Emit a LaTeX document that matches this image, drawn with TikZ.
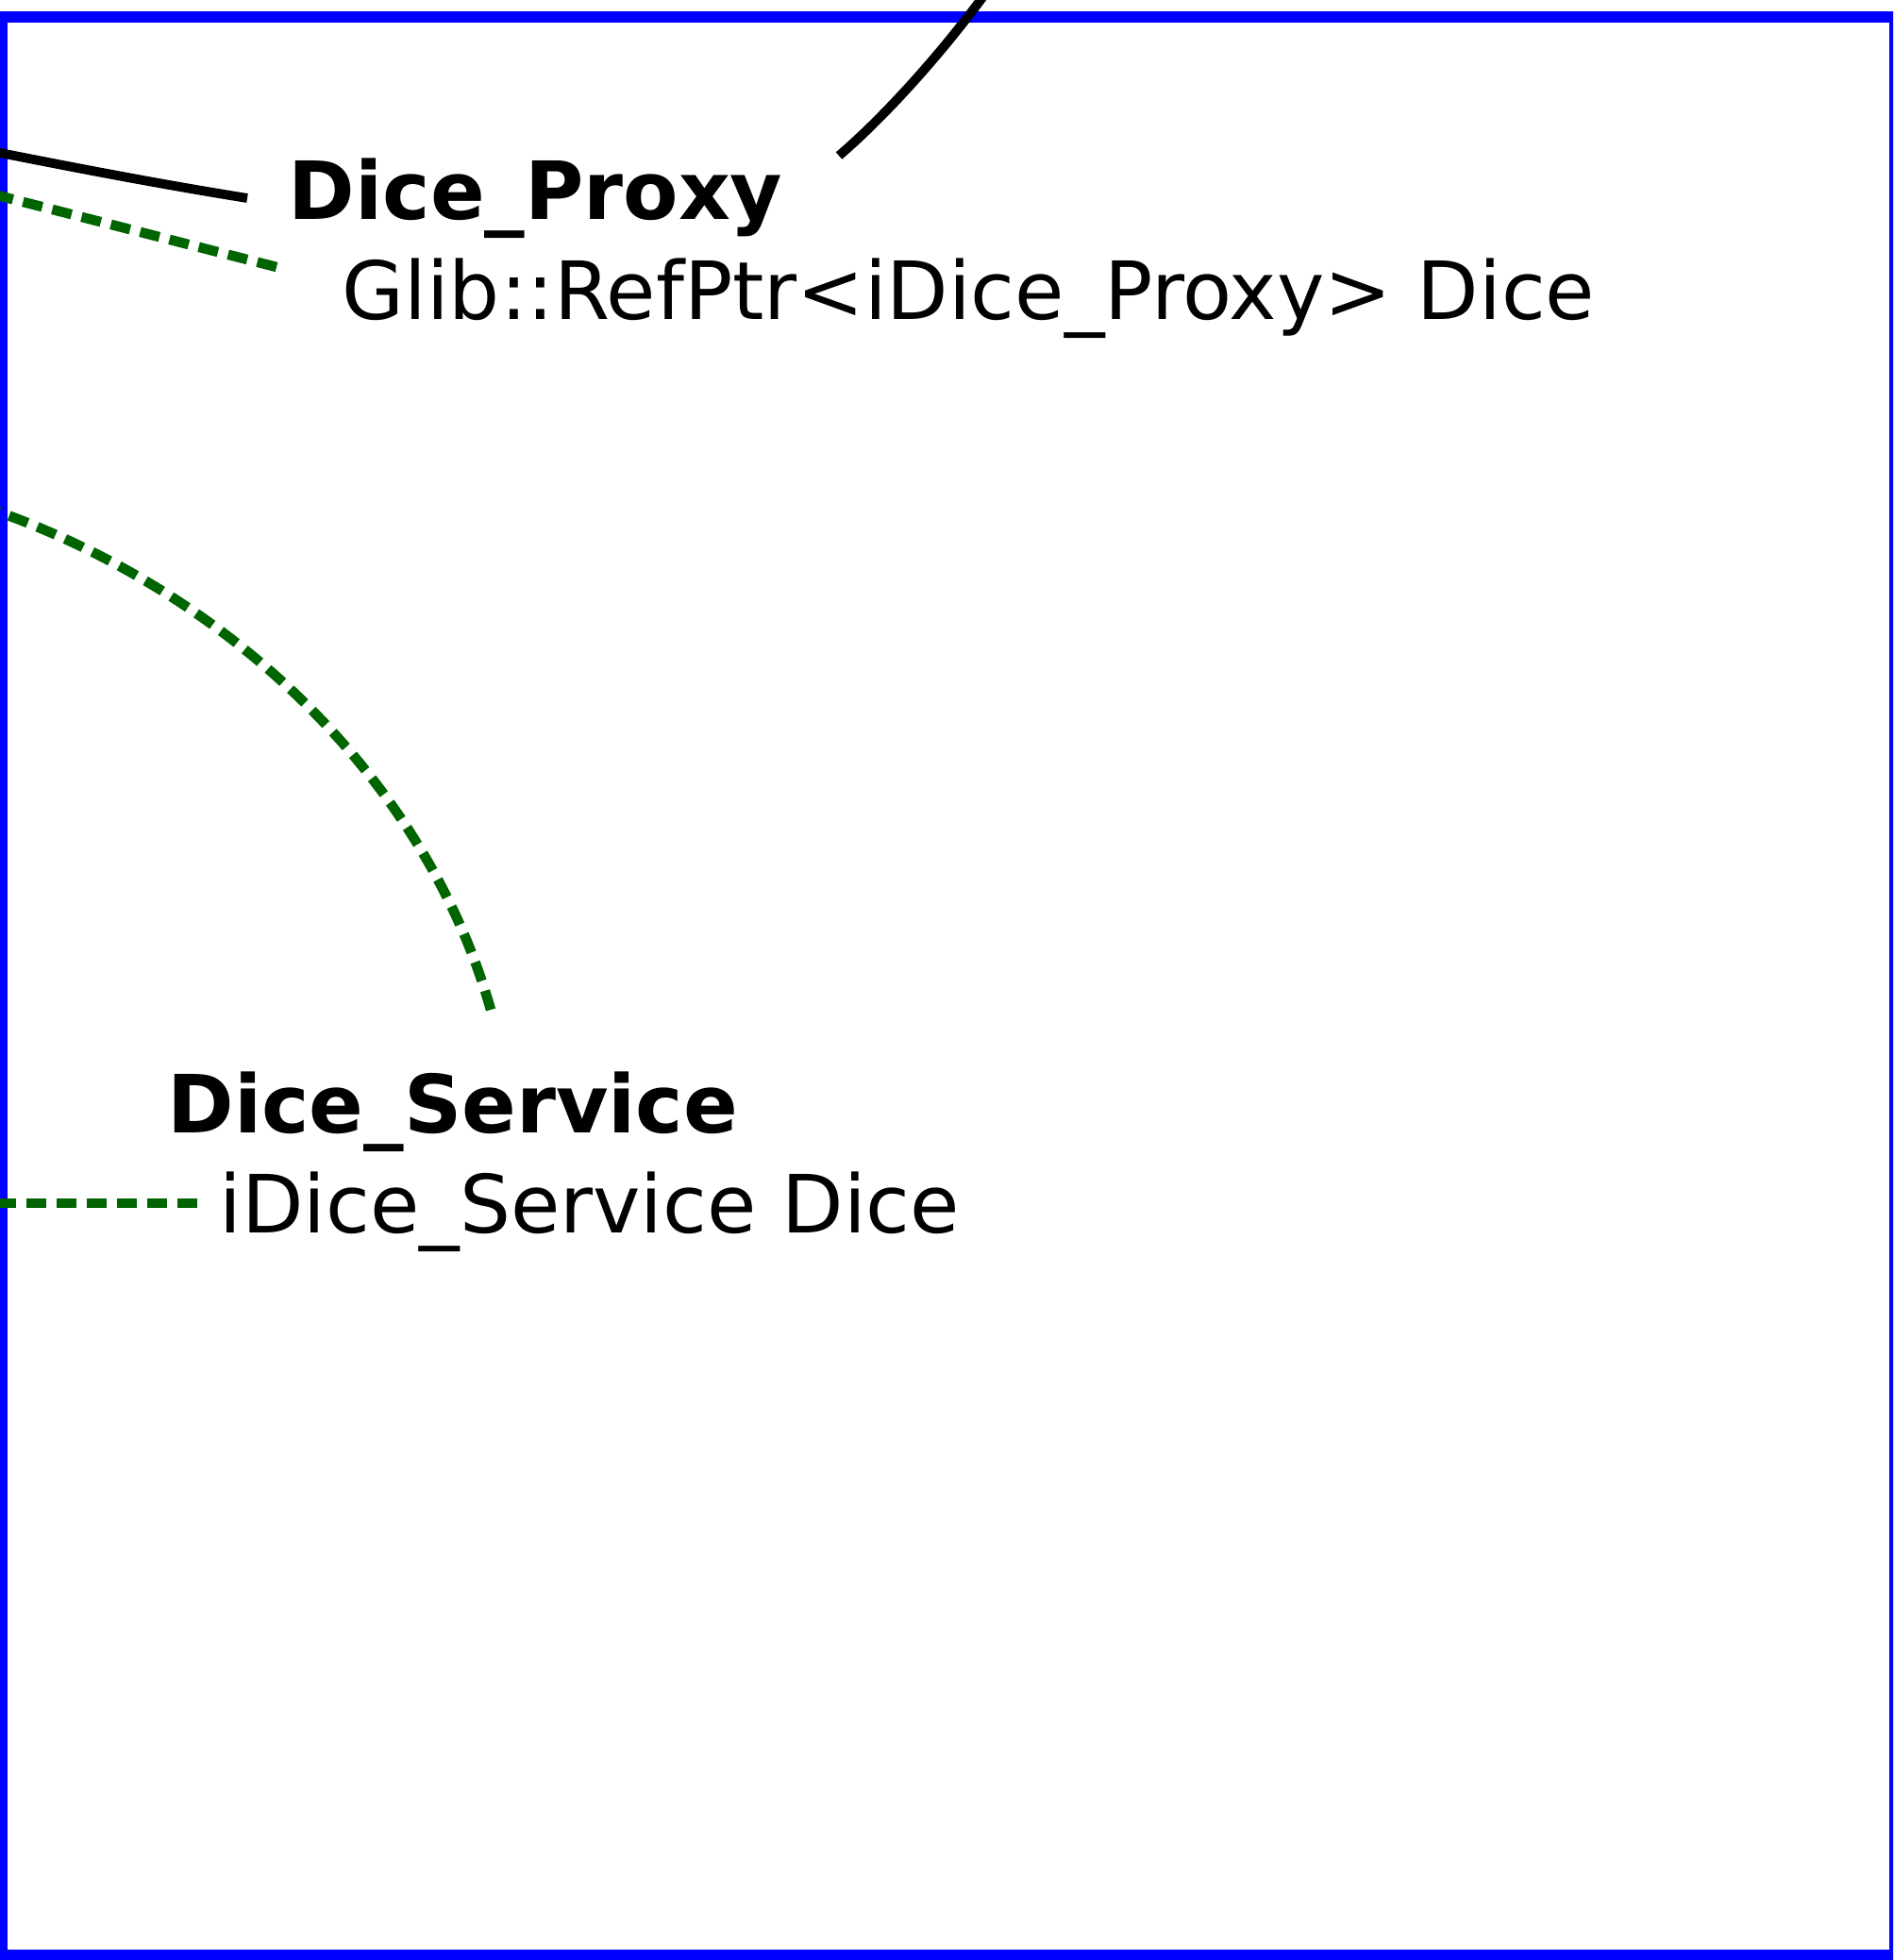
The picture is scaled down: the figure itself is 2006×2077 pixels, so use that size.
\documentclass[tikz,border=0pt]{standalone}
\usepackage{fontspec}
\setmainfont{DejaVu Sans}
\definecolor{depgreen}{RGB}{0,100,0}
\tikzset{
 title/.style={anchor=base west,inner sep=0pt,font=\bfseries\fontsize{24.2}{29}\selectfont},
 attr/.style={anchor=base west,inner sep=0pt,font=\fontsize{24.2}{29}\selectfont},
 link/.style={draw=black,line width=2.8pt},
 dep/.style={draw=depgreen,line width=3pt,dash pattern=on 5.98pt off 3.13pt},
 frame/.style={draw=blue,line width=3.41pt}
}
\begin{document}
\begin{tikzpicture}[x=0.01cm,y=-0.01cm]
 \useasboundingbox (0,0) rectangle (2006,2077);
 \clip (0,0) rectangle (2006,2077);
 \draw[frame] (2,18) rectangle (2008,2072);
 % classes and their members
 \node[title] (proxy) at (305,233) {Dice\_Proxy};
 \node[attr] (proxyvar) at (362,339) {Glib::RefPtr<iDice\_Proxy> Dice};
 \node[title] (service) at (177,1200) {Dice\_Service};
 \node[attr] (servicevar) at (232,1306) {iDice\_Service Dice};
 % ends of the links
 \coordinate (proxy-l) at (262,210);
 \coordinate (proxy-r) at (889,165);
 \coordinate (proxyvar-l) at (293,283);
 \coordinate (service-t) at (520,1070);
 \coordinate (servicevar-l) at (209,1275);
 \coordinate (out-a) at (-30,156);
 \coordinate (out-b) at (-30,200);
 \coordinate (out-c) at (1057,-25);
 \coordinate (out-d) at (-20,536);
 \coordinate (out-e) at (-30,1275);
 \draw[link] (proxy-l) .. controls (175,196) and (90,180) .. (out-a);
 \draw[dep] (proxyvar-l) -- (out-b);
 \draw[link] (proxy-r) .. controls (944,118) and (1012,40) .. (out-c);
 \draw[dep] (service-t) .. controls (453,834) and (255,635) .. (0,543) -- (out-d);
 \draw[dep] (servicevar-l) -- (out-e);
\end{tikzpicture}
\end{document}
